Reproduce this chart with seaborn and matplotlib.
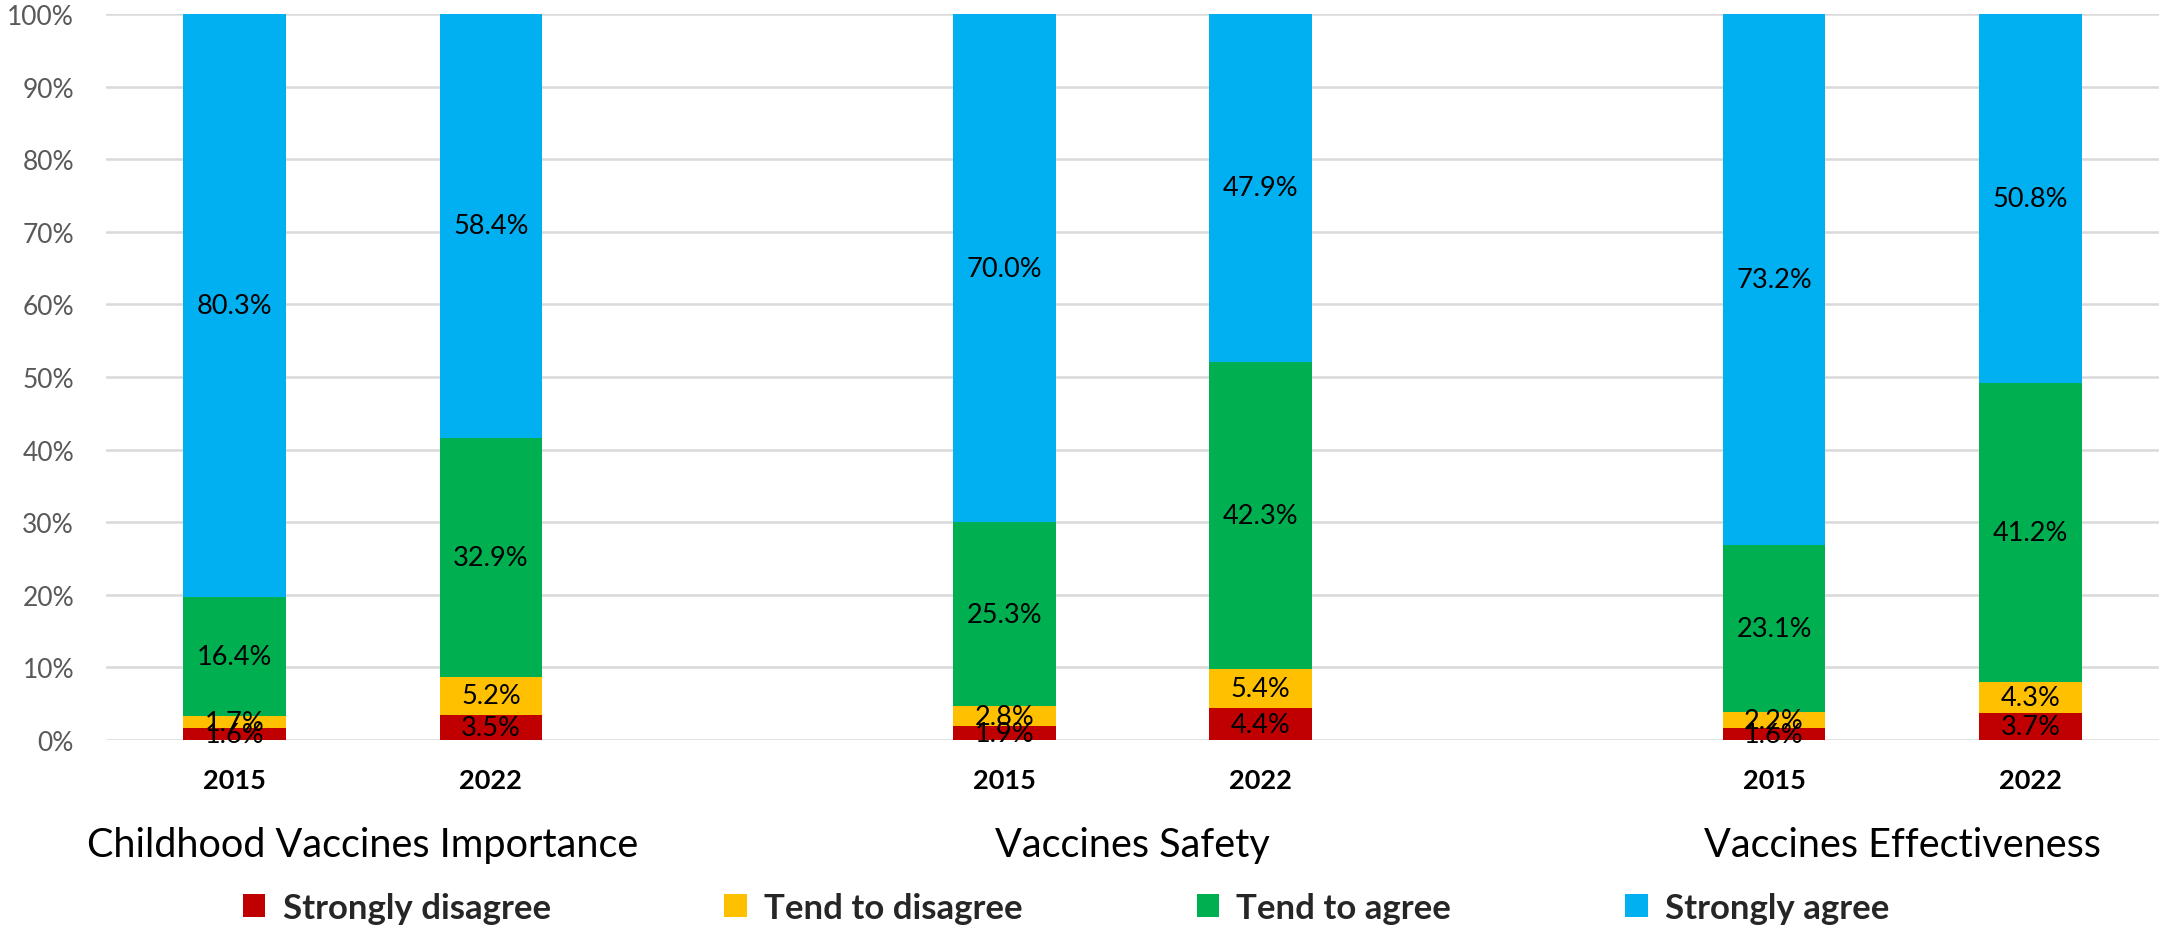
import numpy as np
import pandas as pd
import matplotlib
matplotlib.use("Agg")
import matplotlib.pyplot as plt
import matplotlib.transforms as mtransforms
from matplotlib.patches import Patch
import seaborn as sns

# ---- data ----
groups = ["Childhood Vaccines Importance", "Vaccines Safety", "Vaccines Effectiveness"]
years = ["2015", "2022"]
series = ["Strongly disagree", "Tend to disagree", "Tend to agree", "Strongly agree"]
strongly_disagree = [1.6, 3.5, 1.9, 4.4, 1.6, 3.7]
tend_disagree = [1.7, 5.2, 2.8, 5.4, 2.2, 4.3]
tend_agree = [16.4, 32.9, 25.3, 42.3, 23.1, 41.2]
strongly_agree = [80.3, 58.4, 70.0, 47.9, 73.2, 50.8]
colors = ["#C00000", "#FFC000", "#00B050", "#00B0F0"]
yticks = [0, 10, 20, 30, 40, 50, 60, 70, 80, 90, 100]

# bar slots: two bars per group, one empty slot between groups
positions = [0, 1, 3, 4, 6, 7]

vals = np.array([strongly_disagree, tend_disagree, tend_agree, strongly_agree], dtype=float)
totals = vals.sum(axis=0)
pct = vals / totals * 100.0          # 100% stacked
cum = np.cumsum(pct, axis=0)

sns.set_theme(style="white")
plt.rcParams["font.family"] = ["Lato", "DejaVu Sans"]

W, H = 2159, 929
fig = plt.figure(figsize=(W / 100, H / 100), dpi=100)
ax = fig.add_axes([106 / W, 1 - 741 / H, 1 - 106 / W, (741 - 15) / H])

# draw cumulative bars from top layer to bottom so lower layers overlay
for i in range(3, -1, -1):
    df = pd.DataFrame({"x": positions, "y": cum[i]})
    sns.barplot(data=df, x="x", y="y", native_scale=True, width=0.4,
                color=colors[i], saturation=1, linewidth=0, ax=ax, zorder=2)

# data labels
for i in range(4):
    for j, p in enumerate(positions):
        bottom = cum[i - 1][j] if i > 0 else 0.0
        ax.text(p, bottom + pct[i][j] / 2, f"{vals[i][j]:.1f}%", ha="center", va="center",
                fontsize=19.5, color="black", zorder=5)

ax.set_xlim(-0.5, 7.5)
ax.set_ylim(0, 100)
ax.set_yticks(yticks)
ax.set_yticklabels([f"{t}%" for t in yticks], fontsize=19, color="#595959")
ax.yaxis.grid(True, color="#D9D9D9", linewidth=1.8, zorder=0)
ax.set_axisbelow(True)
ax.tick_params(axis="y", length=0, pad=23)
ax.set_xticks(positions)
ax.set_xticklabels(years * 3, fontsize=19.5, fontweight="bold", color="black")
ax.tick_params(axis="x", length=0, pad=20)
ax.set_xlabel("")
ax.set_ylabel("")
for s in ax.spines.values():
    s.set_visible(False)

# group labels
trans = mtransforms.blended_transform_factory(ax.transData, fig.transFigure)
group_centers = [0.5, 3.5, 6.5]
for g, c in zip(groups, group_centers):
    ax.text(c, 1 - 846 / H, g, ha="center", va="center", fontsize=28.5,
            color="black", transform=trans, clip_on=False)

handles = [Patch(facecolor=colors[i], edgecolor="none", label=series[i]) for i in range(4)]
fig.legend(handles=handles, loc="center", bbox_to_anchor=(1066 / W, 1 - 909 / H), ncol=4,
           frameon=False, prop={"size": 25, "weight": "bold"},
           handlelength=0.65, handleheight=0.65, handletextpad=0.5, columnspacing=5.0)

fig.savefig("out.png", dpi=100)
